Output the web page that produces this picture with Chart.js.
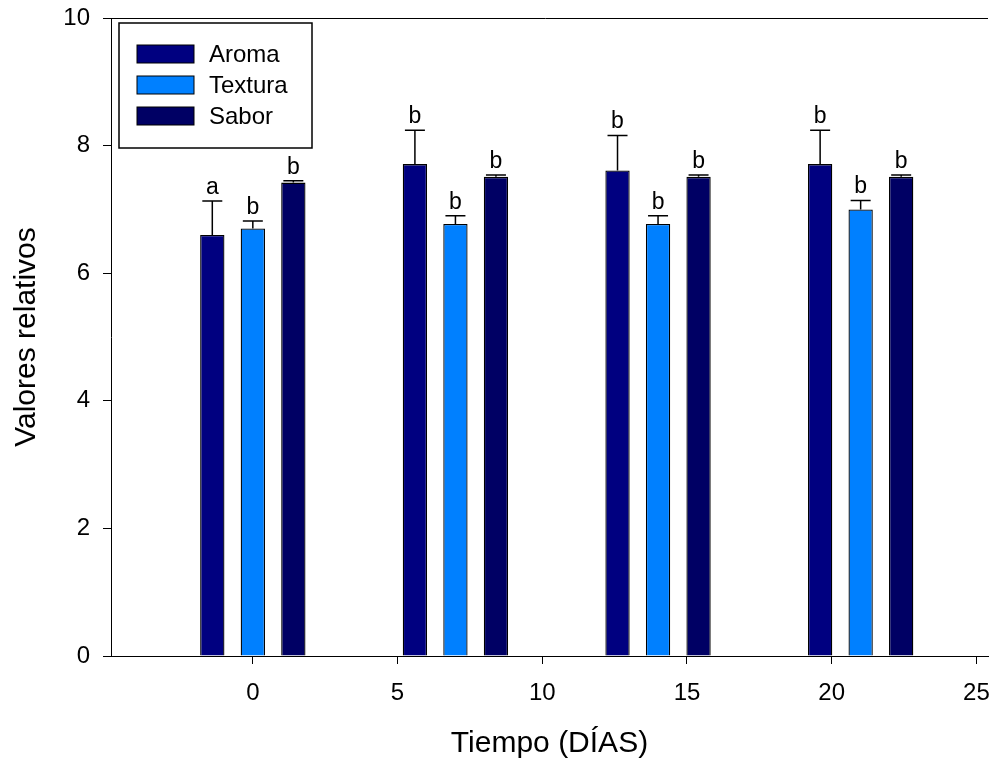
<!DOCTYPE html>
<html>
<head>
<meta charset="utf-8">
<script src="https://cdn.jsdelivr.net/npm/chart.js@4.4.1/dist/chart.umd.min.js"></script>
<style>
  html, body { margin: 0; padding: 0; background: #fff; }
  canvas { display: block; }
</style>
</head>
<body>
<canvas id="chart" width="990" height="762"></canvas>
<script>
// sensory scores per sampling day (mean, standard error, significance letter)
const days = [0, 7, 14, 21];
const aroma = [6.6, 7.71, 7.61, 7.71];
const aromaErr = [0.53, 0.53, 0.55, 0.53];
const aromaLetters = ['a', 'b', 'b', 'b'];
const textura = [6.7, 6.77, 6.77, 7.0];
const texturaErr = [0.12, 0.13, 0.13, 0.14];
const texturaLetters = ['b', 'b', 'b', 'b'];
const sabor = [7.42, 7.51, 7.51, 7.51];
const saborErr = [0.03, 0.03, 0.03, 0.03];
const saborLetters = ['b', 'b', 'b', 'b'];
const xTicks = [0, 5, 10, 15, 20, 25];
const yTicks = [0, 2, 4, 6, 8, 10];

const FONT = "'Liberation Sans', Arial, Helvetica, sans-serif";

const toPoints = (vals) => days.map((d, i) => ({ x: d, y: vals[i] }));

// bar grouping is measured against the tick spacing (5 days)
const makeSet = (label, vals, errs, letters, color) => ({
  label,
  data: toPoints(vals),
  errors: errs,
  letters,
  backgroundColor: color,
  borderColor: '#000',
  borderWidth: 1.3,
  categoryPercentage: 0.84,
  barPercentage: 0.6,
});

// whiskers (upper only) plus letters over them
const errorBars = {
  id: 'errorBars',
  afterDatasetsDraw(chart) {
    const ctx = chart.ctx;
    const yScale = chart.scales.y;
    ctx.save();
    ctx.strokeStyle = '#000';
    ctx.lineWidth = 1.5;
    ctx.fillStyle = '#000';
    ctx.font = '23px ' + FONT;
    ctx.textAlign = 'center';
    ctx.textBaseline = 'alphabetic';
    chart.data.datasets.forEach((ds, di) => {
      const meta = chart.getDatasetMeta(di);
      meta.data.forEach((bar, i) => {
        const top = yScale.getPixelForValue(ds.data[i].y + ds.errors[i]);
        ctx.beginPath();
        ctx.moveTo(bar.x, bar.y);
        ctx.lineTo(bar.x, top);
        ctx.moveTo(bar.x - 10, top);
        ctx.lineTo(bar.x + 10, top);
        ctx.stroke();
        ctx.fillText(ds.letters[i], bar.x, top - 7);
      });
    });
    ctx.restore();
  }
};

// top frame line and boxed legend inside the plot
const frameAndLegend = {
  id: 'frameAndLegend',
  afterDraw(chart) {
    const ctx = chart.ctx;
    const a = chart.chartArea;
    ctx.save();
    ctx.strokeStyle = '#000';
    ctx.lineWidth = 1;
    ctx.beginPath();
    ctx.moveTo(a.left - 8, a.top + 0.5);
    ctx.lineTo(a.right, a.top + 0.5);
    ctx.stroke();

    const bx = a.left + 8, by = a.top + 5, bw = 193, bh = 125;
    ctx.lineWidth = 1.5;
    ctx.strokeRect(bx, by, bw, bh);
    ctx.font = '24px ' + FONT;
    ctx.textAlign = 'left';
    ctx.textBaseline = 'middle';
    chart.data.datasets.forEach((ds, i) => {
      const sy = by + 22 + i * 31;
      ctx.fillStyle = ds.backgroundColor;
      ctx.fillRect(bx + 18, sy, 57, 18);
      ctx.lineWidth = 1;
      ctx.strokeRect(bx + 18, sy, 57, 18);
      ctx.fillStyle = '#000';
      ctx.fillText(ds.label, bx + 90, sy + 10);
    });
    ctx.restore();
  }
};

new Chart(document.getElementById('chart'), {
  type: 'bar',
  data: {
    datasets: [
      makeSet('Aroma', aroma, aromaErr, aromaLetters, '#000080'),
      makeSet('Textura', textura, texturaErr, texturaLetters, '#0080ff'),
      makeSet('Sabor', sabor, saborErr, saborLetters, '#000064'),
    ],
  },
  options: {
    responsive: false,
    animation: false,
    layout: { padding: { top: 18, right: 2, left: 0, bottom: 0 } },
    plugins: {
      legend: { display: false },
      tooltip: { enabled: false },
    },
    scales: {
      x: {
        type: 'linear',
        min: -4.9,
        max: 25.4,
        offset: false,
        afterBuildTicks: (s) => { s.ticks = xTicks.map(v => ({ value: v })); },
        afterFit: (s) => { s.height = 106; s.paddingLeft = 0; s.paddingRight = 0; },
        grid: { drawOnChartArea: false, offset: false, tickLength: 8, color: '#000', tickWidth: 1 },
        border: { color: '#000', width: 1 },
        ticks: { color: '#000', padding: 15, maxRotation: 0, font: { family: FONT, size: 24 } },
        title: { display: true, text: 'Tiempo (DÍAS)', color: '#000', padding: 0, font: { family: FONT, size: 30 } },
      },
      y: {
        min: 0,
        max: 10,
        afterBuildTicks: (s) => { s.ticks = yTicks.map(v => ({ value: v })); },
        afterFit: (s) => { s.width = 111; s.paddingTop = 0; s.paddingBottom = 0; },
        grid: { drawOnChartArea: false, tickLength: 8, color: '#000', tickWidth: 1 },
        border: { color: '#000', width: 1 },
        ticks: { color: '#000', padding: 13, font: { family: FONT, size: 24 } },
        title: { display: true, text: 'Valores relativos', color: '#000', padding: { top: 9, bottom: 0 }, font: { family: FONT, size: 30 } },
      },
    },
  },
  plugins: [errorBars, frameAndLegend],
});
</script>
</body>
</html>
